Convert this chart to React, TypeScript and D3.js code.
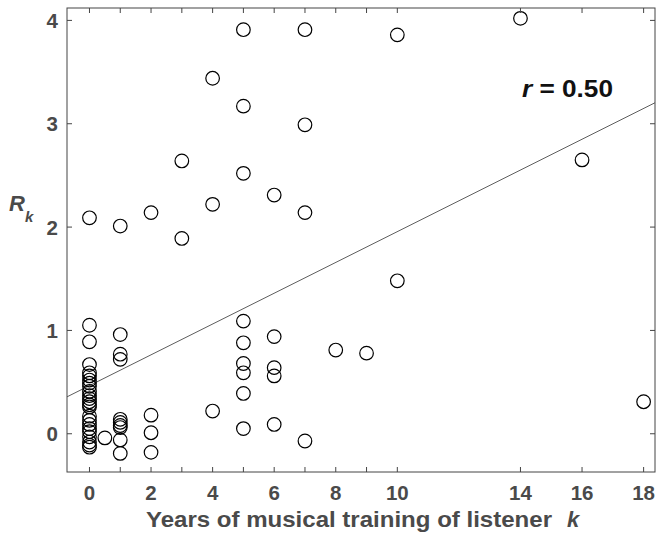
import React from "react";
import * as d3 from "d3";

const W = 657;
const H = 538;

// x = years of training, y = R_k
const trainingYears: number[] = [
  0, 0, 0, 0, 0, 0, 0, 0, 0, 0, 0, 0, 0, 0, 0, 0, 0, 0, 0, 0, 0, 0, 0, 0,
  0.5,
  1, 1, 1, 1, 1, 1, 1, 1, 1, 1,
  2, 2, 2, 2,
  3, 3,
  4, 4, 4,
  5, 5, 5, 5, 5, 5, 5, 5, 5,
  6, 6, 6, 6, 6,
  7, 7, 7, 7,
  8, 9, 10, 10, 14, 16, 18,
];
const rValues: number[] = [
  2.09, 1.05, 0.89, 0.67, 0.59, 0.56, 0.52, 0.49, 0.46, 0.41, 0.37, 0.34, 0.31, 0.28, 0.26, 0.17, 0.13, 0.09, 0.05, 0.02, -0.03, -0.08, -0.11, -0.13,
  -0.04,
  2.01, 0.96, 0.77, 0.72, 0.14, 0.11, 0.08, 0.06, -0.06, -0.19,
  2.14, 0.18, 0.01, -0.18,
  2.64, 1.89,
  3.44, 2.22, 0.22,
  3.91, 3.17, 2.52, 1.09, 0.88, 0.68, 0.59, 0.39, 0.05,
  2.31, 0.94, 0.64, 0.56, 0.09,
  3.91, 2.99, 2.14, -0.07,
  0.81, 0.78, 3.86, 1.48, 4.02, 2.65, 0.31,
];

const xTicks: number[] = [0, 1, 2, 3, 4, 5, 6, 7, 8, 9, 10, 14, 16, 18];
const xTickLabels: number[] = [0, 2, 4, 6, 8, 10, 14, 16, 18];
const yTicks: number[] = [0, 1, 2, 3, 4];

const fitIntercept = 0.466;
const fitSlope = 0.149;
const rLabel = "0.50";

const xDomain: [number, number] = [-0.73, 18.37];
const yDomain: [number, number] = [-0.37, 4.12];

export default function App() {
  const left = 67, right = 655, top = 8, bottom = 472;
  const x = d3.scaleLinear().domain(xDomain).range([left, right]);
  const y = d3.scaleLinear().domain(yDomain).range([bottom, top]);
  const tl = 5;
  const axisColor = "#444";
  const textColor = "#4a4a4a";
  const font = "'Liberation Sans', Arial, Helvetica, sans-serif";

  const line = d3
    .line<number>()
    .x((d) => x(d))
    .y((d) => y(fitIntercept + fitSlope * d));

  return (
    <svg
      width={W}
      height={H}
      style={{ position: "absolute", left: 0, top: 0, background: "#fff" }}
      fontFamily={font}
    >
      <defs>
        <clipPath id="plot">
          <rect x={left} y={top} width={right - left} height={bottom - top} />
        </clipPath>
      </defs>
      <rect x={0} y={0} width={W} height={H} fill="#fff" />
      {/* regression line */}
      <path
        d={line(xDomain) || ""}
        stroke="#333"
        strokeWidth={0.8}
        fill="none"
        clipPath="url(#plot)"
      />
      {/* points */}
      {trainingYears.map((xv, i) => (
        <circle
          key={i}
          cx={x(xv)}
          cy={y(rValues[i])}
          r={6.8}
          fill="none"
          stroke="#000"
          strokeWidth={1.2}
        />
      ))}
      {/* box */}
      <rect
        x={left}
        y={top}
        width={right - left}
        height={bottom - top}
        fill="none"
        stroke={axisColor}
        strokeWidth={1}
      />
      {/* x ticks */}
      {xTicks.map((t) => (
        <g key={"xt" + t}>
          <line x1={x(t)} x2={x(t)} y1={bottom} y2={bottom - tl} stroke={axisColor} />
          <line x1={x(t)} x2={x(t)} y1={top} y2={top + tl} stroke={axisColor} />
        </g>
      ))}
      {xTickLabels.map((t) => (
        <text
          key={"xl" + t}
          x={x(t)}
          y={500}
          textAnchor="middle"
          fontSize={20.5}
          fontWeight="bold"
          fill={textColor}
        >
          {t}
        </text>
      ))}
      {/* y ticks */}
      {yTicks.map((t) => (
        <g key={"yt" + t}>
          <line x1={left} x2={left + tl} y1={y(t)} y2={y(t)} stroke={axisColor} />
          <line x1={right} x2={right - tl} y1={y(t)} y2={y(t)} stroke={axisColor} />
          <text
            x={58}
            y={y(t) + 7.7}
            textAnchor="end"
            fontSize={20.5}
            fontWeight="bold"
            fill={textColor}
          >
            {t}
          </text>
        </g>
      ))}
      {/* axis labels */}
      <text
        x={146}
        y={527}
        fontSize={22}
        fontWeight="bold"
        fill={textColor}
        textLength={406}
        lengthAdjust="spacingAndGlyphs"
      >
        Years of musical training of listener
      </text>
      <text x={567} y={527} fontSize={22} fontWeight="bold" fontStyle="italic" fill={textColor}>
        k
      </text>
      <text x={9} y={211} fontSize={22} fontWeight="bold" fontStyle="italic" fill={textColor}>
        R
        <tspan dy={11} fontSize={15}>k</tspan>
      </text>
      <text
        x={522}
        y={97}
        fontSize={23.5}
        fontWeight="bold"
        fill="#111"
        textLength={91}
        lengthAdjust="spacingAndGlyphs"
      >
        <tspan fontStyle="italic">r</tspan> = {rLabel}
      </text>
    </svg>
  );
}
